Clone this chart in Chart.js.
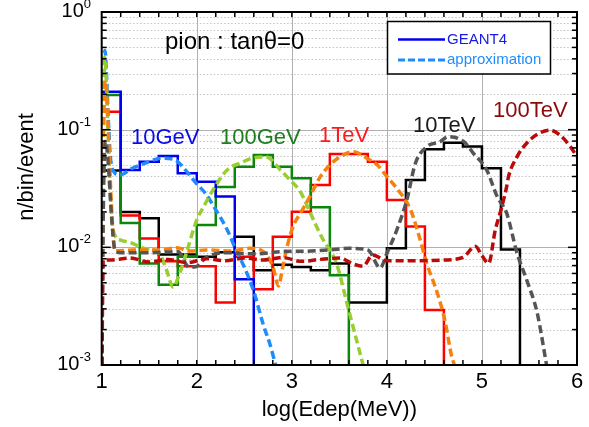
<!DOCTYPE html>
<html><head><meta charset="utf-8">
<script src="https://cdn.jsdelivr.net/npm/chart.js@4.4.1/dist/chart.umd.min.js"></script>
<style>html,body{margin:0;padding:0;background:#fff}canvas{display:block}</style>
</head><body>
<canvas id="c" width="589" height="427"></canvas>
<script>
// ---------- data ----------
const binEdges = [1.0,1.2,1.4,1.6,1.8,2.0,2.2,2.4,2.6,2.8,3.0,3.2,3.4,3.6,3.8,4.0,4.2,4.4,4.6,4.8,5.0,5.2,5.4,5.6,5.8,6.0];
const geant10GeV  = [0.21,0.0455,0.0535,0.0598,0.0426,0.0361,0.027,0.00536,0,0,0,0,0,0,0,0,0,0,0,0,0,0,0,0,0];
const geant100GeV = [0.197,0.0161,0.0073,0.0048,0.0083,0.0155,0.0326,0.0485,0.061,0.0485,0.0387,0.0219,0.0058,0,0,0,0,0,0,0,0,0,0,0,0];
const geant1TeV   = [0.142,0.0186,0.0119,0.0076,0.0069,0.0069,0.0034,0.0083,0.0044,0.0123,0.0201,0.0339,0.062,0.062,0.0535,0.0253,0.015,0.00294,0,0,0,0,0,0,0];
const geant10TeV  = [0.045,0.020,0.0177,0.0087,0.0087,0.0083,0.0091,0.0123,0.0064,0.0071,0.0068,0.0064,0.0073,0.0034,0.0034,0.0098,0.0374,0.068,0.0776,0.0718,0.047,0.0096,0,0,0];

const approx10GeV_x = [1.00,1.02,1.035,1.05,1.07,1.09,1.12,1.19,1.32,1.46,1.63,1.77,1.88,1.98,2.09,2.18,2.32,2.42,2.50,2.60,2.70,2.77,2.83];
const approx10GeV_y = [0.001,0.2,0.47,0.3,0.12,0.06,0.045,0.0412,0.047,0.0519,0.0572,0.0555,0.0455,0.0361,0.0288,0.0222,0.0141,0.0092,0.0068,0.0042,0.0022,0.0015,0.001];

const approx100GeV_x = [1.00,1.02,1.03,1.05,1.07,1.09,1.12,1.2,1.3,1.45,1.6,1.68,1.75,1.82,1.9,2.0,2.07,2.19,2.32,2.46,2.59,2.73,2.88,2.98,3.09,3.19,3.26,3.33,3.47,3.59,3.75];
const approx100GeV_y = [0.001,0.2,0.41,0.25,0.08,0.03,0.014,0.0115,0.011,0.0098,0.009,0.0065,0.0046,0.006,0.0095,0.0171,0.022,0.0326,0.0455,0.0521,0.0575,0.0586,0.0455,0.0374,0.0296,0.020,0.015,0.0116,0.0073,0.0031,0.001];

const approx1TeV_x = [1.00,1.02,1.04,1.06,1.08,1.10,1.14,1.33,1.61,1.79,1.93,2.1,2.35,2.56,2.70,2.80,2.86,2.90,2.95,3.02,3.09,3.19,3.30,3.40,3.51,3.65,3.79,3.90,4.0,4.09,4.25,4.33,4.42,4.53,4.61,4.68,4.71];
const approx1TeV_y = [0.001,0.1,0.26,0.15,0.06,0.025,0.0093,0.0095,0.0095,0.0099,0.0093,0.0095,0.0093,0.0098,0.0092,0.0069,0.0047,0.0065,0.0101,0.0155,0.0195,0.027,0.0399,0.0501,0.059,0.065,0.0572,0.0501,0.0399,0.0328,0.0208,0.0132,0.0073,0.0041,0.0024,0.0012,0.001];

const approx10TeV_x = [1.00,1.02,1.04,1.07,1.10,1.14,1.2,1.5,1.8,1.92,1.98,2.1,2.3,2.6,2.9,3.2,3.4,3.6,3.8,3.93,4.0,4.105,4.21,4.30,4.42,4.56,4.645,4.81,4.91,5.05,5.16,5.26,5.37,5.47,5.58,5.68];
const approx10TeV_y = [0.001,0.03,0.08,0.05,0.02,0.0095,0.009,0.009,0.0092,0.0068,0.0068,0.0082,0.009,0.0088,0.0092,0.0093,0.0095,0.0098,0.0095,0.0067,0.0089,0.0141,0.0253,0.0518,0.0717,0.079,0.0872,0.079,0.063,0.0455,0.027,0.0195,0.0089,0.0053,0.0028,0.001];

const approx100TeV_x = [1.00,1.015,1.1,1.3,1.5,1.7,1.9,2.1,2.3,2.5,2.7,2.9,3.1,3.3,3.5,3.65,3.75,3.85,4.0,4.3,4.6,4.8,4.93,5.0,5.07,5.14,5.21,5.26,5.28,5.37,5.47,5.6,5.72,5.82,5.93,6.0];
const approx100TeV_y = [0.0005,0.0078,0.0078,0.0081,0.0075,0.0079,0.0074,0.008,0.0077,0.0081,0.0078,0.0082,0.0076,0.0079,0.0081,0.0072,0.0069,0.0086,0.0077,0.0077,0.0078,0.0082,0.0102,0.0085,0.0073,0.014,0.0222,0.0328,0.04,0.059,0.0766,0.093,0.099,0.09,0.0717,0.059];

const xTickValues = [1,2,3,4,5,6];
const xTickLabels = ['1','2','3','4','5','6'];
const yTickValues = [1,0.1,0.01,0.001];
const yTickExponents = ['0','-1','-2','-3'];
const energyLabels = ['10GeV','100GeV','1TeV','10TeV','100TeV'];
const legendLabels = ['GEANT4','approximation'];
const titleText = 'pion : tan\u03b8=0';

// ---------- styles ----------
const FONT = "'Liberation Sans', Arial, Helvetica, sans-serif";
const FLOOR = 1e-6;
const histColors = ['#0000ee','#0a870a','#ff0000','#000000'];
const approxColors = ['#1e8cff','#9acd32','#f5820f','#555555','#bb0a0a'];
const labelColors = ['#0a0ae6','#1e7d1e','#ff1a1a','#1a1a1a','#8b0a0a'];

function histPoints(vals){
  const pts = vals.map((v,i)=>({x:binEdges[i], y: v>0? v : FLOOR}));
  pts.push({x:binEdges[binEdges.length-1], y:FLOOR});
  return pts;
}
function curvePoints(xs, ys){ return xs.map((x,i)=>({x, y:ys[i]})); }

const hists = [geant10GeV, geant100GeV, geant1TeV, geant10TeV];
const approxX = [approx10GeV_x, approx100GeV_x, approx1TeV_x, approx10TeV_x, approx100TeV_x];
const approxY = [approx10GeV_y, approx100GeV_y, approx1TeV_y, approx10TeV_y, approx100TeV_y];

const datasets = [];
hists.forEach((h,i)=>datasets.push({
  label:'GEANT4 '+energyLabels[i], data:histPoints(h), stepped:'before',
  borderColor:histColors[i], borderWidth:2.5, pointRadius:0, fill:false, order:10+i
}));
approxX.forEach((xs,i)=>datasets.push({
  label:'approximation '+energyLabels[i], data:curvePoints(xs, approxY[i]),
  borderColor:approxColors[i], borderWidth:3.5, borderDash:[8,4], pointRadius:0, fill:false,
  cubicInterpolationMode:'monotone', order:4-i
}));

// ---------- decoration plugin ----------
const deco = {
  id:'deco',
  beforeDatasetsDraw(chart){
    const {ctx, chartArea:a, scales:{x,y}} = chart;
    ctx.save();
    ctx.lineWidth = 1;
    yTickValues.forEach(dec=>{
      if (dec>=1) return;
      for (let m=1; m<=9; m++){
        const v = dec*m;
        if (v<=y.min || v>=y.max) continue;
        const py = Math.round(y.getPixelForValue(v))+0.5;
        ctx.strokeStyle = m===1 ? '#b0b0b0' : '#c4c4c4';
        ctx.setLineDash(m===1 ? [] : [1.5,2]);
        ctx.beginPath(); ctx.moveTo(a.left,py); ctx.lineTo(a.right,py); ctx.stroke();
      }
    });
    ctx.setLineDash([]);
    ctx.strokeStyle = '#b0b0b0';
    xTickValues.forEach(v=>{
      if (v<=x.min || v>=x.max) return;
      const px = Math.round(x.getPixelForValue(v))+0.5;
      ctx.beginPath(); ctx.moveTo(px,a.top); ctx.lineTo(px,a.bottom); ctx.stroke();
    });
    ctx.restore();
  },
  afterDatasetsDraw(chart){
    const {ctx, chartArea:a, scales:{x,y}} = chart;
    ctx.save();
    ctx.strokeStyle = '#000'; ctx.lineWidth = 1.5; ctx.setLineDash([]);
    const seg=(x1,y1,x2,y2)=>{ctx.beginPath();ctx.moveTo(x1,y1);ctx.lineTo(x2,y2);ctx.stroke();};
    binEdges.forEach(v=>{
      if (v<=x.min || v>=x.max) return;
      const px = x.getPixelForValue(v);
      seg(px,a.bottom,px,a.bottom-5); seg(px,a.top,px,a.top+5);
    });
    yTickValues.forEach(dec=>{
      for (let m=1; m<=9; m++){
        const v = dec*m;
        if (v<y.min-1e-12 || v>y.max+1e-12) continue;
        const py = y.getPixelForValue(v);
        const L = m===1 ? 9 : 5;
        seg(a.left,py,a.left+L,py); seg(a.right,py,a.right-L,py);
      }
    });
    ctx.lineWidth = 2;
    ctx.strokeRect(a.left, a.top, a.right-a.left, a.bottom-a.top);

    // y tick labels 10^n
    ctx.fillStyle = '#000';
    ctx.textBaseline = 'alphabetic'; ctx.textAlign = 'left';
    yTickValues.forEach((v,i)=>{
      const py = y.getPixelForValue(v);
      ctx.font = '20px '+FONT; const w1 = ctx.measureText('10').width;
      ctx.font = '13px '+FONT; const w2 = ctx.measureText(yTickExponents[i]).width;
      const x0 = 91 - w1 - w2;
      ctx.font = '20px '+FONT; ctx.fillText('10', x0, py+5);
      ctx.font = '13px '+FONT; ctx.fillText(yTickExponents[i], x0+w1, py-4);
    });
    // y title
    ctx.save();
    ctx.translate(27, 167); ctx.rotate(-Math.PI/2);
    ctx.textAlign='center'; ctx.textBaseline='middle';
    ctx.font = '22px '+FONT; ctx.fillText('n/bin/event', 0, 0);
    ctx.restore();

    // annotations
    ctx.textAlign='left'; ctx.textBaseline='alphabetic';
    ctx.font = '24px '+FONT; ctx.fillStyle='#000';
    ctx.fillText(titleText, 165, 49);
    ctx.font = '22px '+FONT;
    const labelPos = [[131,143.5],[220,143.5],[319,142],[413,131.5],[493,116.5]];
    energyLabels.forEach((t,i)=>{
      ctx.fillStyle = labelColors[i];
      ctx.fillText(t, labelPos[i][0], labelPos[i][1]);
    });

    // legend box
    ctx.fillStyle='#fff'; ctx.fillRect(387.5,21.5,163,52.5);
    ctx.strokeStyle='#000'; ctx.lineWidth=1.5; ctx.strokeRect(387.5,21.5,163,52.5);
    ctx.lineWidth=2.5; ctx.strokeStyle='#0000ee'; seg(398,39.5,445,39.5);
    ctx.lineWidth=3; ctx.strokeStyle='#1e8cff'; ctx.setLineDash([7,3]); seg(398,60,445,60); ctx.setLineDash([]);
    ctx.font='15px '+FONT; ctx.textBaseline='middle';
    ctx.fillStyle='#1a1ae6'; ctx.fillText(legendLabels[0], 447, 39.5);
    ctx.fillStyle='#1e8cff'; ctx.fillText(legendLabels[1], 447, 60);
    ctx.restore();
  }
};

new Chart(document.getElementById('c'), {
  type:'line',
  data:{datasets},
  options:{
    responsive:false, animation:false, devicePixelRatio:1,
    layout:{padding:{top:12,right:12,left:0,bottom:0}},
    plugins:{legend:{display:false}, tooltip:{enabled:false}},
    scales:{
      x:{type:'linear', min:1, max:6,
        afterFit(s){ s.height = 62; },
        grid:{display:false, drawTicks:false}, border:{display:false},
        ticks:{stepSize:1, padding:4, color:'#000', autoSkip:false, maxRotation:0,
          font:{family:FONT, size:22},
          callback:(v)=>{ const k = xTickValues.findIndex(t=>Math.abs(t-v)<1e-9); return k>=0 ? xTickLabels[k] : ''; }},
        title:{display:true, text:'log(Edep(MeV))', color:'#000', font:{family:FONT, size:22}, padding:{top:0,bottom:4}}
      },
      y:{type:'logarithmic', min:0.001, max:1,
        afterFit(s){ s.width = 101.7; },
        grid:{display:false, drawTicks:false}, border:{display:false},
        ticks:{display:false}, title:{display:false}
      }
    }
  },
  plugins:[deco]
});
</script>
</body></html>
